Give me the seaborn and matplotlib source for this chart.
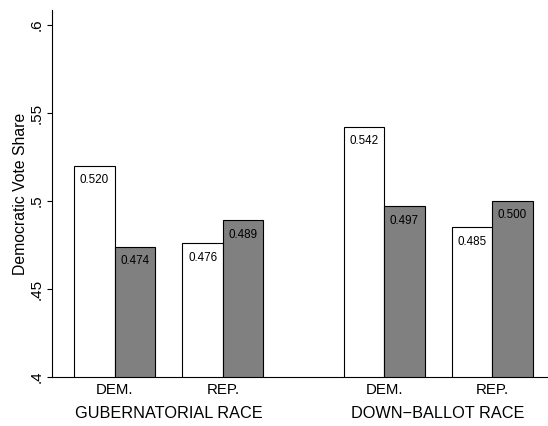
import numpy as np
import pandas as pd
import matplotlib
matplotlib.use("Agg")
import matplotlib.pyplot as plt
import seaborn as sns

# values
races = ["GUBERNATORIAL RACE", "DOWN\u2212BALLOT RACE"]
parties = ["DEM.", "REP."]
open_vals = [0.520, 0.476, 0.542, 0.485]    # white bars
filled_vals = [0.474, 0.489, 0.497, 0.500]  # gray bars
y_ticks = [0.40, 0.45, 0.50, 0.55, 0.60]
y_tick_labels = [".4", ".45", ".5", ".55", ".6"]

sns.set_style("ticks")
plt.rcParams["font.family"] = ["Liberation Sans", "DejaVu Sans"]
for key in ["text.color", "axes.labelcolor", "xtick.color", "ytick.color"]:
    plt.rcParams[key] = "black"

# layout in units of one bar width
first = 1.05
pair_step = 2.67
race_step = 6.65
pair_left = [first + r * race_step + p * pair_step for r in range(2) for p in range(2)]

rows = []
for i, x0 in enumerate(pair_left):
    rows.append({"pos": x0, "share": open_vals[i], "series": "open"})
    rows.append({"pos": x0 + 1.0, "share": filled_vals[i], "series": "filled"})
df = pd.DataFrame(rows)

fig = plt.figure(figsize=(5.48, 4.26), dpi=100)
ax = fig.add_axes([52 / 548, 49 / 426, 496 / 548, 367 / 426])

sns.barplot(data=df, x="pos", y="share", hue="series", native_scale=True,
            dodge=False, width=1.0, palette={"open": "white", "filled": "#808080"},
            edgecolor="black", linewidth=0.8, legend=False, ax=ax)

for _, r in df.iterrows():
    ax.annotate(f"{r['share']:.3f}", (r["pos"], r["share"]), xytext=(0, -6),
                textcoords="offset points", ha="center", va="top", fontsize=8.4)

ax.set_ylim(0.4, 0.6085)
ax.set_xlim(0, 496 / 40.5)
ax.set_yticks(y_ticks)
ax.set_yticklabels(y_tick_labels, rotation=90, va="center", fontsize=11)
ax.tick_params(axis="y", length=3.6, width=0.8, pad=2.7)

centers = [x0 + 0.5 for x0 in pair_left]
ax.set_xticks(centers)
ax.set_xticklabels(parties * 2, fontsize=10.8)
ax.tick_params(axis="x", length=0, pad=4)

trans = ax.get_xaxis_transform()
for k, name in enumerate(races):
    mid = (centers[2 * k] + centers[2 * k + 1]) / 2
    ax.text(mid, -36 / 367, name, transform=trans, ha="center", va="center",
            fontsize=11.7)

ax.set_xlabel("")
ax.set_ylabel("Democratic Vote Share", fontsize=11.3)
ax.yaxis.set_label_coords(-24 / 496, 0.5)

for s in ["top", "right"]:
    ax.spines[s].set_visible(False)
for s in ["left", "bottom"]:
    ax.spines[s].set_linewidth(0.8)
    ax.spines[s].set_color("black")

fig.savefig("out.png", dpi=100)
